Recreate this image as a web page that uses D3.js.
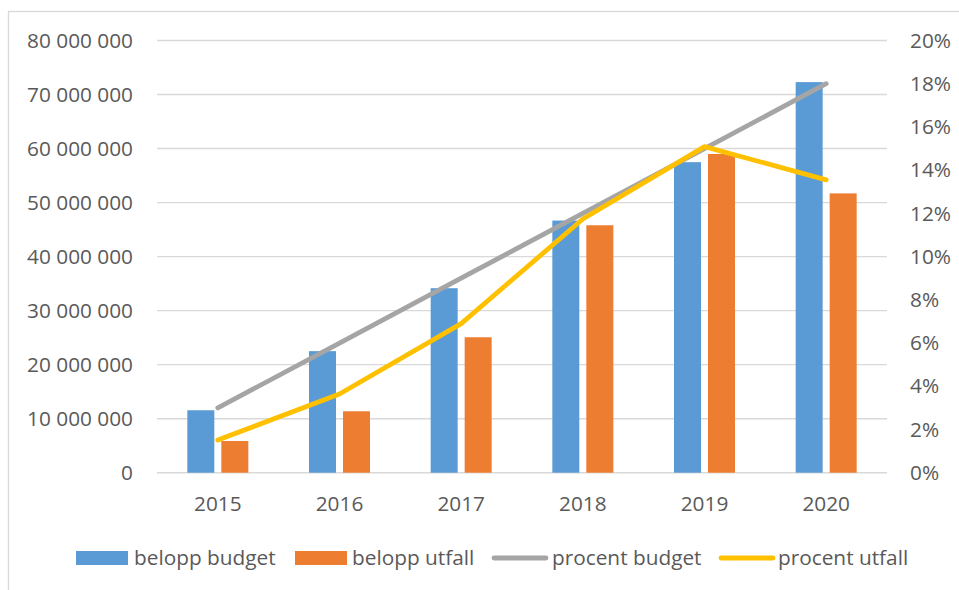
<!DOCTYPE html>
<html>
<head>
<meta charset="utf-8">
<script src="https://cdn.jsdelivr.net/npm/d3@7"></script>
<style>
  body { margin: 0; background: #fff; }
  text { font-family: "Open Sans", "Noto Sans", sans-serif; fill: #595959; }
</style>
</head>
<body>
<svg width="959" height="590"></svg>
<script>
const years = ["2015", "2016", "2017", "2018", "2019", "2020"];
const beloppBudget = [11560000, 22500000, 34150000, 46670000, 57480000, 72300000];
const beloppUtfall = [5870000, 11370000, 25070000, 45800000, 59000000, 51700000];
const procentBudget = [0.03, 0.06, 0.09, 0.12, 0.15, 0.18];
const procentUtfall = [0.0151, 0.0364, 0.069, 0.1174, 0.1509, 0.1355];
const leftTicks = [0, 10000000, 20000000, 30000000, 40000000, 50000000, 60000000, 70000000, 80000000];
const rightTicks = [0, 0.02, 0.04, 0.06, 0.08, 0.10, 0.12, 0.14, 0.16, 0.18, 0.20];

const svg = d3.select("svg");
const fontSize = "20.8px";

// chart area border
svg.append("rect")
    .attr("x", 8.5).attr("y", 11.5)
    .attr("width", 960).attr("height", 600)
    .attr("fill", "none")
    .attr("stroke", "#d9d9d9")
    .attr("stroke-width", 1.3);

const plot = { left: 157, right: 887, top: 40.5, bottom: 472.7 };

const x0 = d3.scaleBand()
    .domain(years)
    .range([plot.left, plot.right]);

const bw = x0.bandwidth();
const x1 = d3.scaleBand()
    .domain(["budget", "utfall"])
    .range([bw / 2 - 30.5, bw / 2 + 30.5])
    .paddingInner(7 / 34);

const yL = d3.scaleLinear().domain([0, 80000000]).range([plot.bottom, plot.top]);
const yR = d3.scaleLinear().domain([0, 0.2]).range([plot.bottom, plot.top]);

// gridlines
svg.append("g")
    .selectAll("line")
    .data(leftTicks)
    .join("line")
    .attr("x1", plot.left).attr("x2", plot.right)
    .attr("y1", d => yL(d)).attr("y2", d => yL(d))
    .attr("stroke", "#d9d9d9")
    .attr("stroke-width", 1.4);

// left axis
const fmtL = d => d3.format(",")(d).replace(/,/g, " ");
const axL = svg.append("g")
    .attr("transform", "translate(133,0)")
    .call(d3.axisLeft(yL).tickValues(leftTicks).tickFormat(fmtL).tickSize(0).tickPadding(0));
axL.select(".domain").remove();
axL.selectAll("text").style("font-size", fontSize).attr("fill", "#595959");

// right axis
const axR = svg.append("g")
    .attr("transform", "translate(910,0)")
    .call(d3.axisRight(yR).tickValues(rightTicks).tickFormat(d3.format(".0%")).tickSize(0).tickPadding(0));
axR.select(".domain").remove();
axR.selectAll("text").style("font-size", fontSize).attr("fill", "#595959");

// x labels
svg.append("g")
    .selectAll("text")
    .data(years)
    .join("text")
    .attr("x", d => x0(d) + bw / 2)
    .attr("y", 503.5)
    .attr("dy", "0.35em")
    .attr("text-anchor", "middle")
    .style("font-size", fontSize)
    .text(d => d);

// bars
const barData = years.map((yr, i) => [
    { yr, key: "budget", v: beloppBudget[i] },
    { yr, key: "utfall", v: beloppUtfall[i] }
]).flat();
const colors = { budget: "#5B9BD5", utfall: "#ED7D31" };

svg.append("g")
    .selectAll("rect")
    .data(barData)
    .join("rect")
    .attr("x", d => x0(d.yr) + x1(d.key))
    .attr("width", x1.bandwidth())
    .attr("y", d => yL(d.v))
    .attr("height", d => yL(0) - yL(d.v))
    .attr("fill", d => colors[d.key]);

// lines
const line = d3.line()
    .x((d, i) => x0(years[i]) + bw / 2)
    .y(d => yR(d));

svg.append("path")
    .attr("d", line(procentBudget))
    .attr("fill", "none")
    .attr("stroke", "#A5A5A5")
    .attr("stroke-width", 4.8)
    .attr("stroke-linecap", "round")
    .attr("stroke-linejoin", "round");

svg.append("path")
    .attr("d", line(procentUtfall))
    .attr("fill", "none")
    .attr("stroke", "#FFC000")
    .attr("stroke-width", 4.8)
    .attr("stroke-linecap", "round")
    .attr("stroke-linejoin", "round");

// legend
const legY = 558;
const legend = svg.append("g");
const legItems = [
    { name: "belopp budget", type: "rect", color: "#5B9BD5", x0: 76, x1: 128, tx: 134 },
    { name: "belopp utfall", type: "rect", color: "#ED7D31", x0: 295, x1: 347, tx: 352 },
    { name: "procent budget", type: "line", color: "#A5A5A5", x0: 494, x1: 546, tx: 552 },
    { name: "procent utfall", type: "line", color: "#FFC000", x0: 721, x1: 773, tx: 778 }
];
legItems.forEach(it => {
    if (it.type === "rect") {
        legend.append("rect")
            .attr("x", it.x0).attr("y", legY - 7)
            .attr("width", it.x1 - it.x0).attr("height", 14)
            .attr("fill", it.color);
    } else {
        legend.append("line")
            .attr("x1", it.x0).attr("x2", it.x1)
            .attr("y1", legY).attr("y2", legY)
            .attr("stroke", it.color)
            .attr("stroke-width", 4.8)
            .attr("stroke-linecap", "round");
    }
    legend.append("text")
        .attr("x", it.tx).attr("y", legY)
        .attr("dy", "0.35em")
        .style("font-size", fontSize)
        .text(it.name);
});
</script>
</body>
</html>
